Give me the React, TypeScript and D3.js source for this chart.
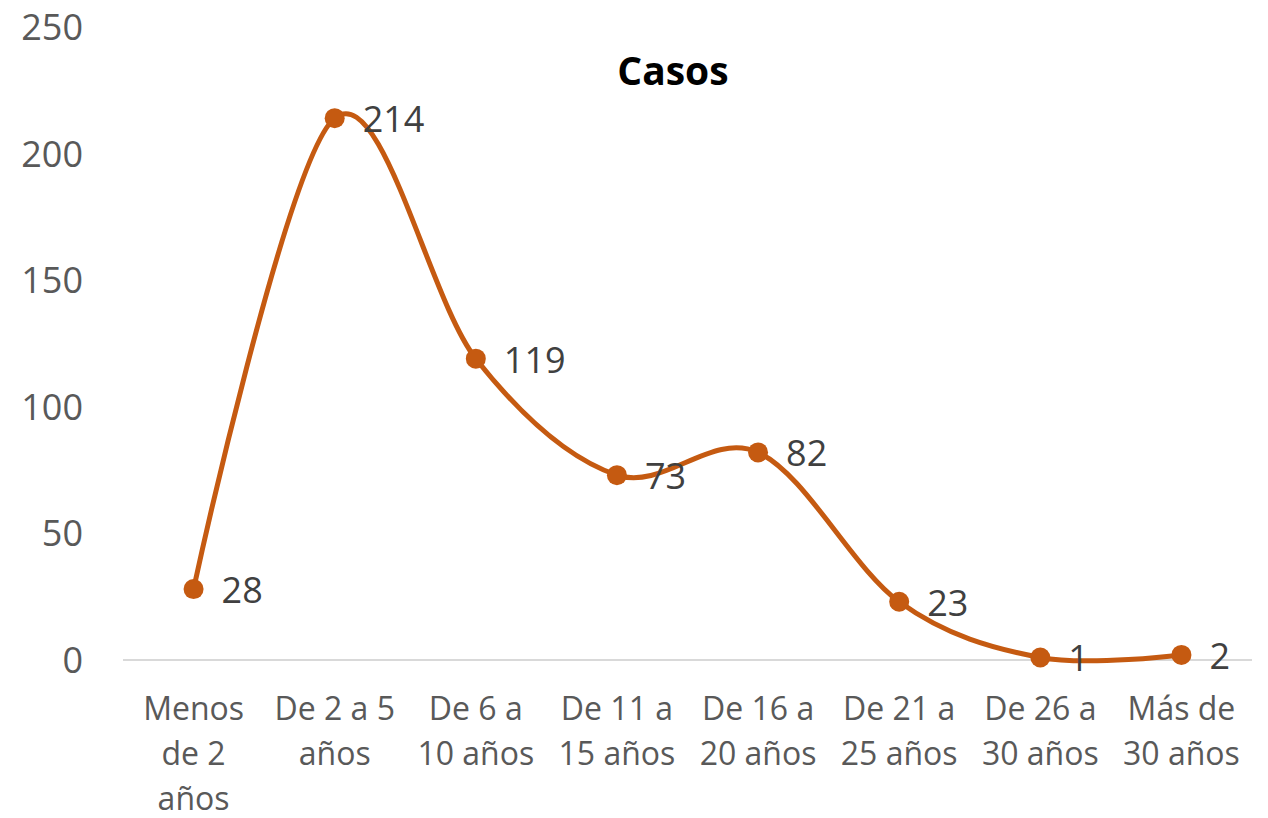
import React, { useEffect, useRef } from 'react';
import * as d3 from 'd3';

const categories = [
  'Menos\nde 2\naños',
  'De 2 a 5\naños',
  'De 6 a\n10 años',
  'De 11 a\n15 años',
  'De 16 a\n20 años',
  'De 21 a\n25 años',
  'De 26 a\n30 años',
  'Más de\n30 años',
];
const casos = [28, 214, 119, 73, 82, 23, 1, 2];
const yTicks = [0, 50, 100, 150, 200, 250];

const FONT = '"Open Sans", "Noto Sans", sans-serif';
const ORANGE = '#C55A11';

const App = () => {
  const ref = useRef(null);

  useEffect(() => {
    const svg = d3.select(ref.current);
    svg.selectAll('*').remove();

    const x = d3.scaleBand().domain(categories).range([123, 1252]).padding(0);
    const cx = (c) => x(c) + x.bandwidth() / 2;
    const y = d3.scaleLinear().domain([0, 250]).range([660, 27]);

    // title
    svg.append('text')
      .attr('x', 673).attr('y', 85)
      .attr('text-anchor', 'middle')
      .attr('font-family', FONT).attr('font-weight', 'bold')
      .attr('font-size', 39).attr('fill', '#000')
      .text('Casos');

    // y tick labels
    svg.selectAll('.ytick').data(yTicks).enter().append('text')
      .attr('x', 83).attr('y', d => y(d) + 13)
      .attr('text-anchor', 'end')
      .attr('font-family', FONT).attr('font-size', 36).attr('fill', '#595959')
      .text(d => d);

    // baseline axis
    svg.append('line')
      .attr('x1', 123).attr('x2', 1252)
      .attr('y1', y(0)).attr('y2', y(0))
      .attr('stroke', '#D9D9D9').attr('stroke-width', 2);

    // category labels
    categories.forEach(c => {
      const t = svg.append('text')
        .attr('text-anchor', 'middle')
        .attr('font-family', FONT).attr('font-size', 32).attr('fill', '#595959');
      c.split('\n').forEach((line, i) => {
        t.append('tspan').attr('x', cx(c)).attr('y', 720 + i * 45).text(line);
      });
    });

    const pts = categories.map((c, i) => [cx(c), y(casos[i])]);
    const line = d3.line().curve(d3.curveCardinal.tension(0));
    svg.append('path')
      .attr('d', line(pts))
      .attr('fill', 'none').attr('stroke', ORANGE)
      .attr('stroke-width', 5).attr('stroke-linejoin', 'round');

    svg.selectAll('.pt').data(pts).enter().append('circle')
      .attr('cx', d => d[0]).attr('cy', d => d[1]).attr('r', 10)
      .attr('fill', ORANGE);

    svg.selectAll('.lbl').data(casos).enter().append('text')
      .attr('x', (d, i) => cx(categories[i]) + 28)
      .attr('y', d => y(d) + 14)
      .attr('font-family', FONT).attr('font-size', 36).attr('fill', '#404040')
      .text(d => d);
  }, []);

  return (
    <svg ref={ref} width={1268} height={818}
      style={{ position: 'absolute', left: 0, top: 0, background: '#fff' }} />
  );
};

export default App;
